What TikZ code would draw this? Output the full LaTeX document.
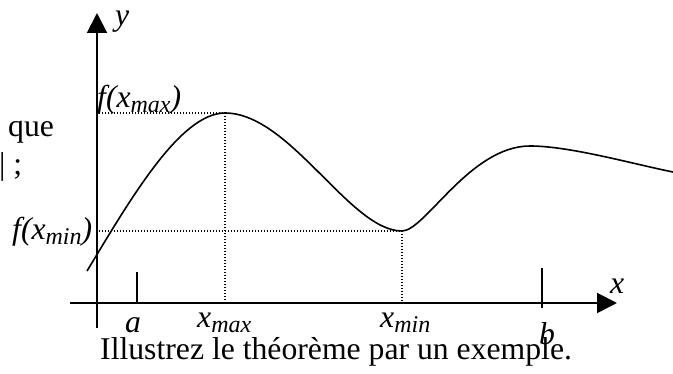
\documentclass[tikz,border=0pt]{standalone}
\usepackage{fontspec}
\setmainfont{Liberation Serif}
\usetikzlibrary{arrows.meta,positioning}

\newcommand{\lbsub}[1]{\raisebox{-5pt}{\fontsize{24}{24}\selectfont #1}}

\begin{document}
\begin{tikzpicture}[x=1pt,y=-1pt]
  \tikzstyle{txt}=[inner sep=0pt,font=\fontsize{31.7}{38}\selectfont]
  \tikzstyle{lbl}=[txt,font=\fontsize{31.7}{38}\selectfont\itshape]
  \tikzstyle{axis}=[line width=2pt,-{Triangle[length=20pt,width=20pt]}]
  \tikzstyle{guide}=[line width=1.3pt,dash pattern=on 1.3pt off 1.7pt]
  \useasboundingbox (0,0) rectangle (673,374);

  % axes
  \coordinate (yb) at (97,328);
  \coordinate (yt) at (97,13);
  \coordinate (xl) at (70,303);
  \coordinate (xr) at (617,303);
  \draw[axis] (yb) -- (yt);
  \draw[axis] (xl) -- (xr);
  \node[lbl,anchor=base west] (ylab) at (115,26) {y};
  \node[lbl,anchor=base west] (xlab) at (610,294) {x};

  % ticks
  \draw[line width=1.5pt] (137,272) -- (137,303);
  \draw[line width=1.5pt] (542,268) -- (542,308);

  % curve
  \coordinate (mx) at (225,113);
  \coordinate (mn) at (402,231);
  \draw[line width=1.6pt] (87,271) .. controls (130,200) and (180,113) .. (mx)
    .. controls (290,113) and (350,231) .. (mn)
    .. controls (425,231) and (470,146) .. (530,146)
    .. controls (570,146) and (633,164) .. (673,172);

  % guides
  \coordinate (fmx) at (99,113);
  \coordinate (fmn) at (99,231);
  \coordinate (xmx) at (225,303);
  \coordinate (xmn) at (402,303);
  \draw[guide] (fmx) -- (mx) -- (xmx);
  \draw[guide] (fmn) -- (mn) -- (xmn);

  % labels
  \node[lbl,anchor=base west] (fmax) at (97,108) {f(x\lbsub{max})};
  \node[lbl,anchor=base west] (fmin) at (12,240) {f(x\lbsub{min})};
  \node[lbl,anchor=base] (alab) at (133,333) {a};
  \node[lbl,anchor=base] (blab) at (547,345) {b};
  \node[lbl,anchor=base west] (xmaxlab) at (197,328) {x\lbsub{max}};
  \node[lbl,anchor=base west] (xminlab) at (380,328) {x\lbsub{min}};

  % text
  \node[txt,anchor=base west] (que) at (8,137) {que};
  \node[txt,anchor=base west] (semi) at (-1,175) {| ;};
  \node[txt,anchor=base west] (caption) at (100,360) {Illustrez le théorème par un exemple.};
\end{tikzpicture}
\end{document}
